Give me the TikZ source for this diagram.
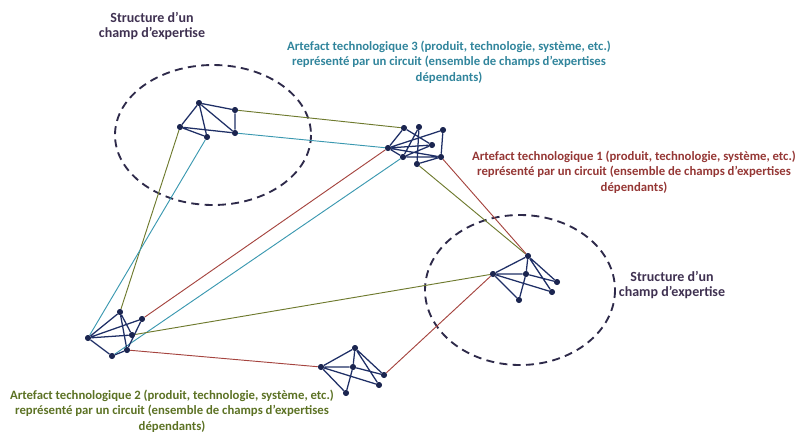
\documentclass[tikz,border=0pt]{standalone}
\usepackage{fontspec}
\setmainfont{Carlito}
\begin{document}
\begin{tikzpicture}[x=0.75pt,y=-0.75pt]
\definecolor{navy}{HTML}{1F2F66}
\definecolor{dotc}{HTML}{1B2550}
\definecolor{olive}{HTML}{6E7A2E}
\definecolor{teal}{HTML}{3A98B0}
\definecolor{redl}{HTML}{A5443F}
\definecolor{tred}{HTML}{953735}
\definecolor{tteal}{HTML}{31859C}
\definecolor{tolive}{HTML}{5C7224}
\definecolor{purp}{HTML}{3F3151}
\definecolor{ellc}{HTML}{2E2A4A}
\tikzset{
  dot/.style={circle,fill=dotc,inner sep=0pt,minimum size=4.5pt},
  inner/.style={draw=navy,line width=0.95pt},
  ol/.style={draw=olive,line width=0.7pt},
  tl/.style={draw=teal,line width=0.7pt},
  rl/.style={draw=redl,line width=0.7pt},
  field/.style={draw=ellc,line width=1.4pt,dash pattern=on 6pt off 4pt},
  lab/.style={font=\bfseries\fontsize{9.55}{11.6}\selectfont,align=center},
  slab/.style={font=\bfseries\fontsize{10.5}{11.2}\selectfont,align=center,text=purp}
}
\useasboundingbox (0,0) rectangle (803,433);
% ellipses
\draw[field] (213,135) ellipse [x radius=98, y radius=70];
\draw[field] (520,290) ellipse [x radius=95, y radius=75];
% cluster A
\node[dot] (a1) at (199,103) {};
\node[dot] (a2) at (235,110) {};
\node[dot] (a3) at (180,127) {};
\node[dot] (a4) at (207,137) {};
\node[dot] (a5) at (235,133) {};
% cluster C
\node[dot] (c1) at (404,128) {};
\node[dot] (c2) at (419,127) {};
\node[dot] (c3) at (443,130) {};
\node[dot] (c4) at (388,148) {};
\node[dot] (c5) at (432,145) {};
\node[dot] (c6) at (403,157) {};
\node[dot] (c7) at (441,157) {};
\node[dot] (c8) at (417,164) {};
% cluster B
\node[dot] (b1) at (528,256) {};
\node[dot] (b2) at (493,274) {};
\node[dot] (b3) at (526,274) {};
\node[dot] (b4) at (557,282) {};
\node[dot] (b5) at (552,292) {};
\node[dot] (b6) at (519,300) {};
% cluster D
\node[dot] (d1) at (120,312) {};
\node[dot] (d2) at (142,319) {};
\node[dot] (d3) at (88,338) {};
\node[dot] (d4) at (132,335) {};
\node[dot] (d5) at (127,350) {};
\node[dot] (d6) at (112,356) {};
% cluster E
\node[dot] (e1) at (355,348) {};
\node[dot] (e2) at (321,367) {};
\node[dot] (e3) at (353,367) {};
\node[dot] (e4) at (384,375) {};
\node[dot] (e5) at (379,385) {};
\node[dot] (e6) at (346,393) {};
% connectors between clusters
\draw[ol] (a2) -- (c1);
\draw[tl] (a5) -- (c4);
\draw[ol] (a3) -- (d1);
\draw[tl] (a4) -- (d3);
\draw[rl] (c4) -- (d2);
\draw[tl] (c6) -- (d6);
\draw[ol] (c8) -- (b1);
\draw[rl] (c7) -- (b1);
\draw[ol] (b2) -- (d4);
\draw[rl] (b2) -- (e4);
\draw[rl] (d5) -- (e2);
% inner edges A
\draw[inner] (a1)--(a2) (a1)--(a3) (a1)--(a4) (a1)--(a5) (a2)--(a5) (a3)--(a4) (a3)--(a5);
% inner edges C
\draw[inner] (c1)--(c4) (c1)--(c5) (c2)--(c6) (c2)--(c8) (c3)--(c4) (c3)--(c7)
  (c4)--(c5) (c4)--(c6) (c4)--(c7) (c5)--(c6) (c6)--(c7) (c7)--(c8);
% inner edges B
\draw[inner] (b1)--(b2) (b1)--(b3) (b1)--(b4) (b1)--(b5) (b2)--(b3) (b2)--(b5)
  (b2)--(b6) (b3)--(b4) (b3)--(b6);
% inner edges D
\draw[inner] (d1)--(d3) (d1)--(d4) (d1)--(d5) (d2)--(d3) (d2)--(d5) (d3)--(d4)
  (d3)--(d6) (d6)--(d5);
% inner edges E
\draw[inner] (e1)--(e2) (e1)--(e3) (e1)--(e4) (e1)--(e5) (e2)--(e3) (e2)--(e5)
  (e2)--(e6) (e3)--(e4) (e3)--(e6);
% dots on top
\foreach \n in {a1,a2,a3,a4,a5,c1,c2,c3,c4,c5,c6,c7,c8,b1,b2,b3,b4,b5,b6,d1,d2,d3,d4,d5,d6,e1,e2,e3,e4,e5,e6}
  \fill[dotc] (\n) circle (2.1pt);
% labels
\node[slab] (s1) at (152,26) {Structure d’un\\champ d’expertise};
\node[slab] (s2) at (672,285) {Structure d’un\\champ d’expertise};
\node[lab,text=tteal] (l3) at (449,62) {Artefact technologique 3 (produit, technologie, système, etc.)\\représenté par un circuit (ensemble de champs d’expertises\\dépendants)};
\node[lab,text=tred] (l1) at (634,172) {Artefact technologique 1 (produit, technologie, système, etc.)\\représenté par un circuit (ensemble de champs d’expertises\\dépendants)};
\node[lab,text=tolive] (l2) at (172,411) {Artefact technologique 2 (produit, technologie, système, etc.)\\représenté par un circuit (ensemble de champs d’expertises\\dépendants)};
\end{tikzpicture}
\end{document}
